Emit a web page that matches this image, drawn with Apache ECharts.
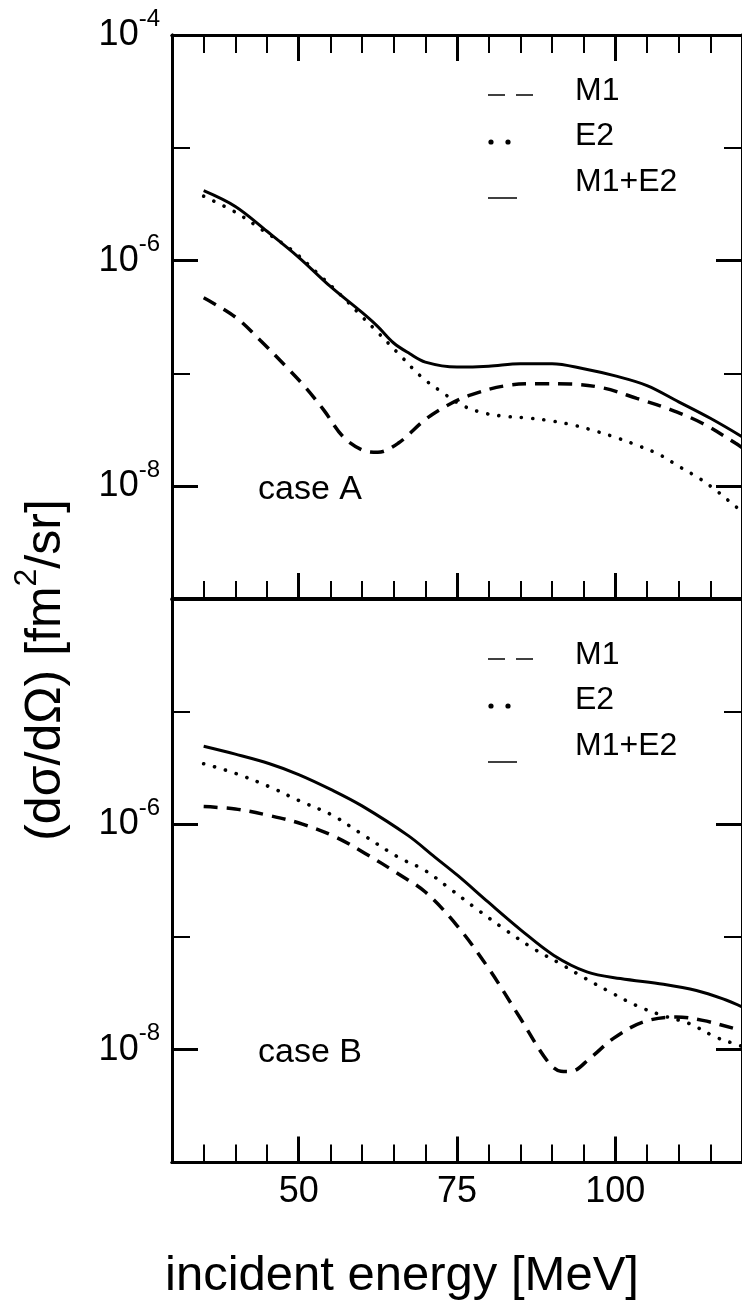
<!DOCTYPE html>
<html>
<head>
<meta charset="utf-8">
<script src="https://cdn.jsdelivr.net/npm/echarts@6/dist/echarts.min.js"></script>
<style>
html,body{margin:0;padding:0;background:#fff;}
#chart{width:742px;height:1307px;}
</style>
</head>
<body>
<div id="chart"></div>
<script>
// ---- data (incident energy [MeV], cross section [fm^2/sr]) ----
const caseA_M1 = [[35,4.68e-7],[40,3.16e-7],[44,1.95e-7],[48,1.15e-7],[51,7.6e-8],[54,4.7e-8],[57,2.75e-8],[60,2.1e-8],[62.5,2.0e-8],[65.7,2.4e-8],[70,3.9e-8],[73.6,5.25e-8],[77.2,6.45e-8],[82.5,7.75e-8],[87.7,8.1e-8],[92.9,8.05e-8],[98.2,7.4e-8],[103.4,6.0e-8],[108.6,4.8e-8],[113.8,3.6e-8],[119,2.4e-8],[120,2.2e-8]];
const caseA_E2 = [[35,3.72e-6],[40,2.69e-6],[44.3,1.86e-6],[49,1.23e-6],[52.9,7.8e-7],[56.9,4.8e-7],[59.5,3.4e-7],[62.1,2.43e-7],[65.7,1.51e-7],[69.4,9.3e-8],[72.5,6.9e-8],[75.7,5.25e-8],[79.1,4.47e-8],[82.5,4.17e-8],[86.1,4.03e-8],[89.8,3.8e-8],[93.5,3.47e-8],[96.8,3.09e-8],[100.2,2.69e-8],[103.6,2.29e-8],[107,1.9e-8],[110.2,1.48e-8],[113.3,1.17e-8],[116.2,8.9e-9],[119,6.6e-9],[120,6.0e-9]];
const caseA_sum = [[35,4.17e-6],[40,3.02e-6],[45,1.82e-6],[50,1.07e-6],[55,5.9e-7],[60,3.47e-7],[62.5,2.6e-7],[65,1.86e-7],[67.5,1.5e-7],[70,1.26e-7],[75,1.14e-7],[80,1.16e-7],[85,1.22e-7],[90,1.22e-7],[95,1.1e-7],[100,9.5e-8],[105,7.8e-8],[110,5.6e-8],[115,4.0e-8],[120,2.75e-8]];

const caseB_M1 = [[35,1.43e-6],[40,1.36e-6],[45.4,1.19e-6],[50.6,1.0e-6],[55.8,7.7e-7],[60.5,5.5e-7],[65.7,3.63e-7],[70,2.5e-7],[75,1.26e-7],[80,5.25e-8],[85,1.9e-8],[89.3,7.9e-9],[91.4,6.45e-9],[92.9,6.4e-9],[96.1,8.5e-9],[99.7,1.26e-8],[104.4,1.76e-8],[109.6,1.95e-8],[113.8,1.82e-8],[119,1.53e-8],[120,1.48e-8]];
const caseB_E2 = [[35,3.43e-6],[40,2.82e-6],[45.4,2.14e-6],[50,1.62e-6],[55.3,1.2e-6],[59.5,8.5e-7],[65.7,5.1e-7],[69.9,3.9e-7],[73.6,2.75e-7],[77.8,1.82e-7],[82.5,1.17e-7],[87.2,7.8e-8],[91.4,5.75e-8],[95,4.37e-8],[99.2,3.24e-8],[103.4,2.45e-8],[107.6,2.0e-8],[111.7,1.7e-8],[115.9,1.29e-8],[119,1.12e-8],[120,1.07e-8]];
const caseB_sum = [[35,4.9e-6],[40,4.17e-6],[45.4,3.43e-6],[50,2.75e-6],[55.3,2.0e-6],[60,1.45e-6],[67.3,7.9e-7],[71.5,5.1e-7],[75.2,3.47e-7],[79.9,2.04e-7],[85.1,1.15e-7],[90.3,6.85e-8],[95.5,4.9e-8],[100.8,4.27e-8],[107.6,3.8e-8],[112.8,3.35e-8],[117,2.82e-8],[120,2.4e-8]];

const xMajorTicks = [50, 75, 100];
const yMajorTicks = [1e-8, 1e-6, 1e-4];
const yMinorTicks = [1e-9, 1e-7, 1e-5];
const yLabelsTop = [1e-8, 1e-6, 1e-4];
const yLabelsBottom = [1e-8, 1e-6];
const seriesNames = ['M1', 'E2', 'M1+E2'];
const caseNames = ['case A', 'case B'];

// ---- chart ----
const FONT = '"Liberation Sans", Arial, Helvetica, sans-serif';
const BLACK = '#000';
const chart = echarts.init(document.getElementById('chart'), null, {renderer: 'canvas'});

function xAx(grid, pos, major, showLabels) {
  const o = {
    type: 'value', gridIndex: grid, position: pos, min: 30, max: 120, interval: 5,
    axisLine: {show: true, onZero: false, lineStyle: {color: BLACK, width: 3}},
    axisTick: {show: true, inside: true, length: major ? 26 : 18, lineStyle: {color: BLACK, width: major ? 3 : 2}},
    axisLabel: {show: false},
    splitLine: {show: false}
  };
  if (major) {
    o.axisTick.customValues = xMajorTicks;
    if (showLabels) {
      o.axisLabel = {show: true, customValues: xMajorTicks, color: BLACK, fontSize: 36, fontFamily: FONT, margin: 12};
    }
  }
  return o;
}
function xLineOnly(grid, pos) {
  return {type: 'value', gridIndex: grid, position: pos, min: 30, max: 120,
    axisLine: {show: true, onZero: false, lineStyle: {color: BLACK, width: 3}},
    axisTick: {show: false}, axisLabel: {show: false}, splitLine: {show: false}};
}
function yAx(grid, pos, major, labels) {
  const o = {
    type: 'log', logBase: 10, gridIndex: grid, position: pos, min: 1e-9, max: 1e-4,
    axisLine: {show: true, onZero: false, lineStyle: {color: BLACK, width: 3}},
    axisTick: {show: true, inside: true, length: major ? 26 : 18,
      customValues: major ? yMajorTicks : yMinorTicks,
      lineStyle: {color: BLACK, width: major ? 3 : 2}},
    axisLabel: {show: false},
    splitLine: {show: false}, minorTick: {show: false}
  };
  if (labels) {
    o.axisLabel = {
      show: true, customValues: labels, margin: 12,
      formatter: function (v) { const e = Math.round(Math.log10(v)); return '{b|10}{s|' + e + '}'; },
      rich: {
        b: {fontSize: 36, lineHeight: 56, fontFamily: FONT, color: BLACK},
        s: {fontSize: 24, lineHeight: 24, fontFamily: FONT, color: BLACK, verticalAlign: 'top'}
      }
    };
  }
  return o;
}

const xAxis = [
  xAx(0, 'bottom', false), xAx(0, 'bottom', true, false),
  xAx(0, 'top', false), xAx(0, 'top', true, false),
  xAx(1, 'bottom', false), xAx(1, 'bottom', true, true),
  xLineOnly(1, 'top')
];
const yAxis = [
  yAx(0, 'left', false), yAx(0, 'left', true, yLabelsTop),
  yAx(0, 'right', false), yAx(0, 'right', true, null),
  yAx(1, 'left', false), yAx(1, 'left', true, yLabelsBottom),
  yAx(1, 'right', false), yAx(1, 'right', true, null)
];

function line(name, data, xi, yi, kind) {
  const ls = {color: BLACK, width: 3};
  if (kind === 'dash') { ls.type = [14, 9]; ls.width = 3.5; }
  if (kind === 'dot') { ls.type = [0.1, 11.2]; ls.cap = 'round'; ls.width = 3.6; }
  return {type: 'line', name: name, data: data, xAxisIndex: xi, yAxisIndex: yi,
    showSymbol: false, symbol: 'none', smooth: 0.35,
    lineStyle: ls, silent: true, animation: false, clip: true};
}
const series = [
  line(seriesNames[0], caseA_M1, 0, 0, 'dash'),
  line(seriesNames[1], caseA_E2, 0, 0, 'dot'),
  line(seriesNames[2], caseA_sum, 0, 0, 'solid'),
  line(seriesNames[0], caseB_M1, 4, 4, 'dash'),
  line(seriesNames[1], caseB_E2, 4, 4, 'dot'),
  line(seriesNames[2], caseB_sum, 4, 4, 'solid')
];

function legendGroup(y0) {
  const els = [];
  els.push({type: 'line', shape: {x1: 488, y1: y0 + 4, x2: 505, y2: y0 + 4}, style: {stroke: BLACK, lineWidth: 1.5}});
  els.push({type: 'line', shape: {x1: 516, y1: y0 + 4, x2: 533, y2: y0 + 4}, style: {stroke: BLACK, lineWidth: 1.5}});
  els.push({type: 'circle', shape: {cx: 491, cy: y0 + 51, r: 2.6}, style: {fill: BLACK}});
  els.push({type: 'circle', shape: {cx: 508, cy: y0 + 51, r: 2.6}, style: {fill: BLACK}});
  els.push({type: 'line', shape: {x1: 488, y1: y0 + 107, x2: 517, y2: y0 + 107}, style: {stroke: BLACK, lineWidth: 1.5}});
  const dy = [0, 45, 91];
  seriesNames.forEach(function (n, i) {
    els.push({type: 'text', x: 575, y: y0 + dy[i], style: {text: n, fontSize: 32, fontFamily: FONT, fill: BLACK, align: 'left', verticalAlign: 'middle'}});
  });
  return els;
}

const graphic = [].concat(
  legendGroup(91),
  legendGroup(655),
  [
    {type: 'text', x: 258, y: 490, style: {text: caseNames[0], fontSize: 34, fontFamily: FONT, fill: BLACK, align: 'left', verticalAlign: 'middle'}},
    {type: 'text', x: 258, y: 1053, style: {text: caseNames[1], fontSize: 34, fontFamily: FONT, fill: BLACK, align: 'left', verticalAlign: 'middle'}},
    {type: 'text', x: 402, y: 1276, style: {text: 'incident energy [MeV]', fontSize: 49, fontFamily: FONT, fill: BLACK, align: 'center', verticalAlign: 'middle'}},
    {type: 'text', x: 46, y: 670, rotation: Math.PI / 2,
      style: {text: '{t|(dσ/dΩ) [fm}{u|2}{t|/sr]}', align: 'center', verticalAlign: 'middle', fill: BLACK,
        rich: {
          t: {fontSize: 50, lineHeight: 70, fontFamily: FONT, fill: BLACK, color: BLACK},
          u: {fontSize: 32, lineHeight: 32, fontFamily: FONT, fill: BLACK, color: BLACK, verticalAlign: 'top'}
        }}}
  ]
);

chart.setOption({
  backgroundColor: '#fff',
  animation: false,
  grid: [
    {left: 172, right: -4, top: 35, height: 564, containLabel: false},
    {left: 172, right: -4, top: 598.5, height: 564, containLabel: false}
  ],
  xAxis: xAxis,
  yAxis: yAxis,
  series: series,
  graphic: graphic
});
</script>
</body>
</html>
